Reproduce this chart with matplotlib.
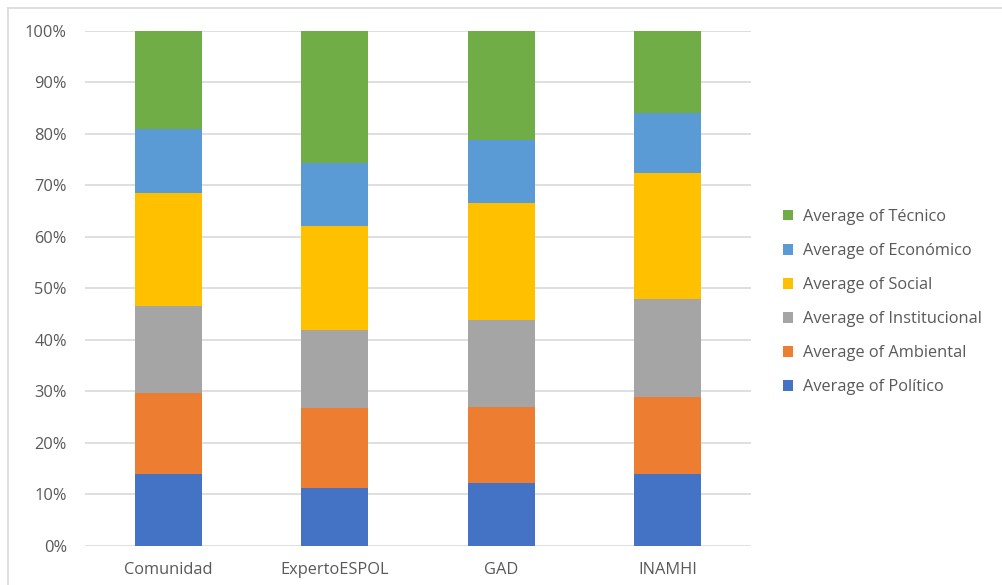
import matplotlib
matplotlib.use("Agg")
import matplotlib.pyplot as plt
from matplotlib.lines import Line2D
from matplotlib.ticker import PercentFormatter
import numpy as np

categories = ["Comunidad", "ExpertoESPOL", "GAD", "INAMHI"]

# Share of each criterion per group (percent of the stacked total)
politico = [13.9, 11.2, 12.2, 13.9]
ambiental = [15.7, 15.6, 14.7, 15.0]
institucional = [16.9, 15.0, 17.0, 19.0]
social = [22.0, 20.3, 22.7, 24.5]
economico = [12.45, 12.3, 12.2, 11.7]
tecnico = [19.05, 25.6, 21.2, 15.9]

series_names = ["Average of Político", "Average of Ambiental", "Average of Institucional",
                "Average of Social", "Average of Económico", "Average of Técnico"]
series_colors = ["#4472C4", "#ED7D31", "#A5A5A5", "#FFC000", "#5B9BD5", "#70AD47"]

plt.rcParams["font.family"] = ["Open Sans", "DejaVu Sans"]

W, H = 1002, 585
fig = plt.figure(figsize=(W / 100, H / 100), dpi=100)
ax = fig.add_axes([85 / W, 1 - 545.5 / H, (751 - 85) / W, (545.5 - 31) / H])

data = np.array([politico, ambiental, institucional, social, economico, tecnico], dtype=float)
data = data / data.sum(axis=0) * 100
x = np.arange(len(categories))
bottom = np.zeros(len(categories))
handles = []
for vals, name, col in zip(data, series_names, series_colors):
    b = ax.bar(x, vals, width=0.40, bottom=bottom, color=col, label=name, zorder=3)
    handles.append(b)
    bottom += vals

ax.set_xlim(-0.5, len(categories) - 0.5)
ax.set_ylim(0, 100)
ax.set_yticks(np.arange(0, 101, 10))
ax.yaxis.set_major_formatter(PercentFormatter(decimals=0))
ax.set_xticks(x)
ax.set_xticklabels(categories)
ax.grid(axis="y", color="#D9D9D9", linewidth=1.2, zorder=0)
for s in ax.spines.values():
    s.set_visible(False)
ax.tick_params(axis="both", length=0, labelsize=11.8, labelcolor="#595959")
ax.tick_params(axis="x", pad=12)
ax.tick_params(axis="y", pad=13)

leg = ax.legend(handles[::-1], series_names[::-1], loc="center left",
                bbox_to_anchor=(1.036, 0.473), frameon=False, fontsize=11.8,
                handlelength=0.6, handleheight=0.6, handletextpad=0.6,
                labelspacing=1.1, labelcolor="#595959", borderpad=0)

# Outer chart frame (top and left edges)
fig.add_artist(Line2D([8 / W, 1], [1 - 8 / H, 1 - 8 / H], transform=fig.transFigure,
                      color="#D9D9D9", linewidth=1.2))
fig.add_artist(Line2D([8 / W, 8 / W], [0, 1 - 8 / H], transform=fig.transFigure,
                      color="#D9D9D9", linewidth=1.2))

fig.savefig("out.png", dpi=100, facecolor="white")
